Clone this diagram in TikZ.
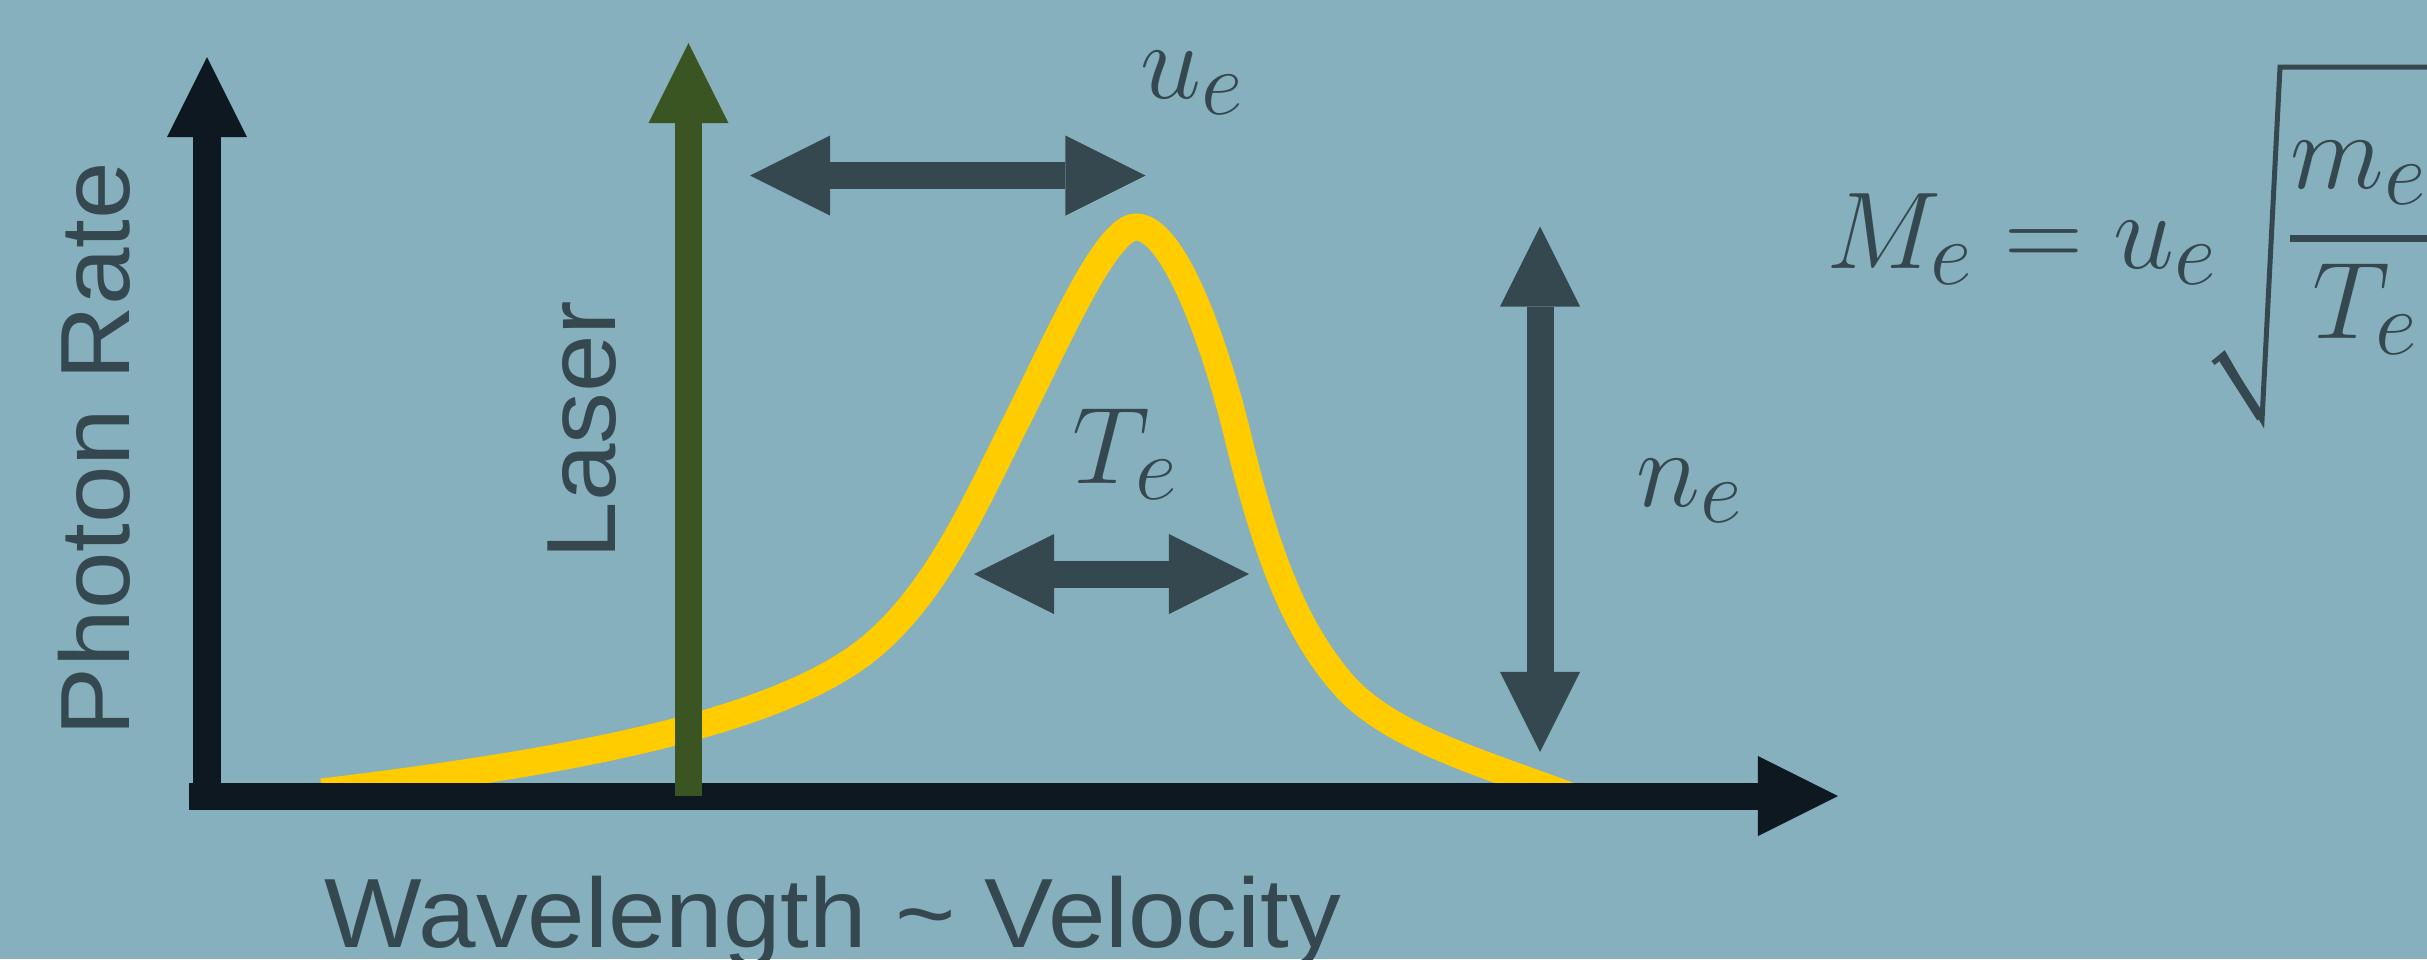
\documentclass[tikz,border=0pt]{standalone}
\usepackage{fontspec}
\setmainfont{Liberation Sans}[FakeStretch=1.05]
\usetikzlibrary{arrows.meta}
\definecolor{bg}{RGB}{134,176,189}
\definecolor{ink}{RGB}{54,72,79}
\definecolor{axisc}{RGB}{14,24,32}
\definecolor{laserc}{RGB}{58,84,34}
\definecolor{curvec}{RGB}{255,204,0}
\tikzset{
  shaft/.style={line width=0.27cm},
  onetip/.style={-{Triangle[length=0.8cm,width=0.8cm,line width=0pt]}},
  twotip/.style={{Triangle[length=0.8cm,width=0.8cm,line width=0pt]}-{Triangle[length=0.8cm,width=0.8cm,line width=0pt]}},
  lbl/.style={inner sep=0pt, text=ink, font=\fontsize{28}{34}\selectfont},
  mlbl/.style={inner sep=0pt, text=ink, font=\fontsize{24.88}{30}\selectfont, scale=1.25},
}
\begin{document}
\begin{tikzpicture}[x=0.01cm,y=-0.01cm]
\fill[bg] (0,0) rectangle (2427,959);
\useasboundingbox (0,0) rectangle (2427,959);
\clip (0,0) rectangle (2427,959);

% spectrum curve
\coordinate (cstart) at (322,792);
\coordinate (cend) at (1573,797);
\draw[curvec, line width=0.27cm] (cstart)
  .. controls (570,762) and (773,724) .. (867,650)
  .. controls (937,594) and (976.5,500) .. (1017,420)
  .. controls (1057.5,340) and (1106,227) .. (1136,227)
  .. controls (1176,227) and (1218,355) .. (1237,433)
  .. controls (1267.4,559.4) and (1296.5,629.8) .. (1342,683)
  .. controls (1387.5,736.2) and (1479.4,762) .. (cend);

% axes
\coordinate (ybot) at (207,809);
\coordinate (ytop) at (207,57);
\coordinate (xleft) at (189,796);
\coordinate (xright) at (1838,796);
\draw[axisc, shaft, onetip] (ybot) -- (ytop);
\draw[axisc, shaft, onetip] (xleft) -- (xright);

% laser
\coordinate (lbot) at (688.5,796);
\coordinate (ltop) at (688.5,43);
\draw[laserc, shaft, onetip] (lbot) -- (ltop);

% double arrows
\coordinate (ua) at (750,175.5);
\coordinate (ub) at (1145.5,175.5);
\draw[ink, shaft, twotip] (ua) -- (ub);
\coordinate (ta) at (974,574);
\coordinate (tb) at (1249,574);
\draw[ink, shaft, twotip] (ta) -- (tb);
\coordinate (na) at (1540,226.5);
\coordinate (nb) at (1540,752);
\draw[ink, shaft, twotip] (na) -- (nb);

% labels
\node[lbl, rotate=90, anchor=base] (ylab) at (129,449) {Photon Rate};
\node[lbl, rotate=90, anchor=base] (laserlab) at (615,430) {Laser};
\node[lbl, anchor=base] (xlab) at (833,947) {Wavelength \textasciitilde{} Velocity};

\node[mlbl, anchor=base west] (ulab) at (1140,98) {$u_e$};
\node[mlbl, anchor=base west] (tlab) at (1072,483) {$T_e$};
\node[mlbl, anchor=base west] (nlab) at (1636,506) {$n_e$};

% formula
\node[mlbl, anchor=base west] (mach) at (1826,268) {$M_e = u_e$};
\node[mlbl, anchor=base west] (num) at (2290,188) {$m_e$};
\node[mlbl, anchor=base west] (den) at (2312,338) {$T_e$};
\draw[ink, line width=0.07cm] (2290,238) -- (2440,238);
\draw[ink, line width=0.05cm, line join=miter] (2213,363) -- (2224,354) -- (2262,420) -- (2280,67) -- (2440,67);
\draw[ink, line width=0.09cm] (2222,357) -- (2261,418);
\end{tikzpicture}
\end{document}
